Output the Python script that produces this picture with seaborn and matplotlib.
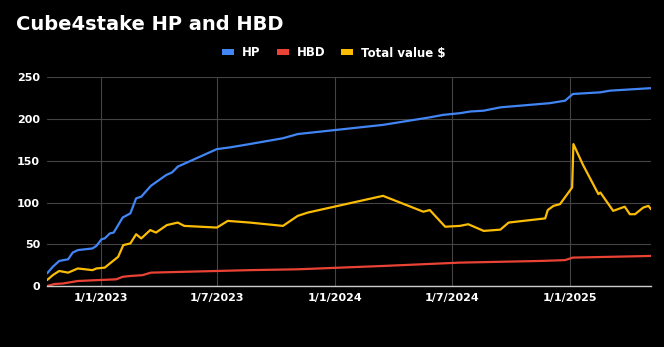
import matplotlib
matplotlib.use("Agg")
import matplotlib.pyplot as plt
from matplotlib.patches import Patch
import seaborn as sns
import pandas as pd

# ---- data ----
hp_dates = ["2022-10-09", "2022-10-18", "2022-10-28", "2022-11-11", "2022-11-18", "2022-11-26",
            "2022-12-19", "2022-12-25", "2023-01-02", "2023-01-07", "2023-01-15", "2023-01-21",
            "2023-02-04", "2023-02-16", "2023-02-25", "2023-03-05", "2023-03-20", "2023-04-13",
            "2023-04-22", "2023-05-01", "2023-07-01", "2023-07-21", "2023-08-21", "2023-10-12",
            "2023-11-04", "2024-03-16", "2024-05-28", "2024-06-18", "2024-07-14", "2024-07-30",
            "2024-08-20", "2024-09-15", "2024-12-01", "2024-12-17", "2024-12-25", "2025-01-06",
            "2025-02-18", "2025-03-05", "2025-05-08"]
hp_values = [15, 23, 30, 32, 40, 43, 45, 48, 56, 57, 63, 64, 82, 87, 105, 107, 120, 133,
             136, 143, 164, 166, 170, 177, 182, 193, 202, 205, 207, 209, 210, 214, 219, 221,
             222, 230, 232, 234, 237]

hbd_dates = ["2022-10-09", "2022-10-21", "2022-11-03", "2022-11-26", "2022-12-25", "2023-01-25",
             "2023-02-04", "2023-02-16", "2023-03-07", "2023-03-20", "2023-07-01", "2023-08-21",
             "2023-11-04", "2024-03-16", "2024-07-14", "2024-11-16", "2024-12-25", "2025-01-06",
             "2025-05-08"]
hbd_values = [0, 2.4, 3, 6, 7, 8, 11, 12, 13, 16, 18, 19, 20, 24, 28, 30, 31, 34, 36]

total_dates = ["2022-10-09", "2022-10-18", "2022-10-28", "2022-11-11", "2022-11-26", "2022-12-19",
               "2022-12-25", "2023-01-07", "2023-01-28", "2023-02-05", "2023-02-16", "2023-02-25",
               "2023-03-05", "2023-03-19", "2023-03-28", "2023-04-14", "2023-05-01", "2023-05-11",
               "2023-07-01", "2023-07-18", "2023-08-21", "2023-10-12", "2023-11-04", "2023-11-20",
               "2024-03-16", "2024-05-18", "2024-05-28", "2024-06-21", "2024-07-14", "2024-07-27",
               "2024-08-20", "2024-09-15", "2024-09-28", "2024-11-24", "2024-11-28", "2024-12-07",
               "2024-12-17", "2025-01-05", "2025-01-07", "2025-01-22", "2025-02-15", "2025-02-18",
               "2025-03-10", "2025-03-28", "2025-04-05", "2025-04-13", "2025-04-26", "2025-05-04",
               "2025-05-08"]
total_values = [7, 13, 18, 16, 21, 19, 21, 22, 35, 49, 51, 62, 57, 67, 64, 73, 76, 72,
                70, 78, 76, 72, 84, 88, 108, 89, 91, 71, 72, 74, 66, 67.5, 76, 81, 91, 96,
                98, 118, 170, 145, 110, 112, 90, 95, 86, 86, 94, 96, 92]

series_names = ["HP", "HBD", "Total value $"]
series_colors = ["#4285F4", "#EA4335", "#FBBC04"]

xtick_dates = ["2023-01-01", "2023-07-01", "2024-01-01", "2024-07-01", "2025-01-01"]
xtick_labels = ["1/1/2023", "1/7/2023", "1/1/2024", "1/7/2024", "1/1/2025"]
ytick_values = [0, 50, 100, 150, 200, 250]

# ---- long-form table ----
frames = []
for name, d, v in zip(series_names, [hp_dates, hbd_dates, total_dates],
                      [hp_values, hbd_values, total_values]):
    frames.append(pd.DataFrame({"date": pd.to_datetime(d), "value": v, "series": name}))
df = pd.concat(frames, ignore_index=True)

sns.set_theme(style="dark")
plt.rcParams["font.family"] = ["DejaVu Sans"]

fig = plt.figure(figsize=(6.64, 3.47), dpi=100, facecolor="black")
ax = fig.add_axes([47 / 664, 1 - 286 / 347, (651 - 47) / 664, (286 - 77.3) / 347])
ax.set_facecolor("black")

sns.lineplot(data=df, x="date", y="value", hue="series", hue_order=series_names,
             palette=series_colors, linewidth=1.6, ax=ax, legend=False, zorder=3)

ax.set_xlim(pd.Timestamp("2022-10-09"), pd.Timestamp("2025-05-08"))
ax.set_ylim(0, 250)
ax.set_yticks(ytick_values)
ax.set_yticklabels([str(v) for v in ytick_values])
ax.set_xticks(pd.to_datetime(xtick_dates))
ax.set_xticklabels(xtick_labels)
ax.set_xlabel("")
ax.set_ylabel("")

ax.grid(True, color="#444444", linewidth=0.8)
ax.set_axisbelow(True)
for s in ["top", "right", "left"]:
    ax.spines[s].set_visible(False)
ax.spines["bottom"].set_visible(True)
ax.spines["bottom"].set_color("#cccccc")
ax.spines["bottom"].set_linewidth(1.0)
ax.spines["bottom"].set_zorder(4)

ax.tick_params(axis="both", length=0, colors="white", labelsize=8)
ax.tick_params(axis="y", pad=5)
ax.tick_params(axis="x", pad=5)
for lab in ax.get_xticklabels() + ax.get_yticklabels():
    lab.set_fontweight("bold")
    lab.set_color("white")

fig.text(16.5 / 664, 1 - 24.7 / 347, "Cube4stake HP and HBD", color="white",
         fontsize=14, fontweight="bold", ha="left", va="center")

handles = [Patch(facecolor=c, edgecolor="none", label=n) for n, c in zip(series_names, series_colors)]
leg = fig.legend(handles=handles, loc="center", bbox_to_anchor=(334 / 664, 1 - 53 / 347),
                 ncol=3, frameon=False, handlelength=1.0, handleheight=0.35,
                 handletextpad=0.68, columnspacing=1.36, borderpad=0,
                 prop={"weight": "bold", "size": 8.5})
for t in leg.get_texts():
    t.set_color("white")

fig.savefig("out.png", dpi=100, facecolor="black")
